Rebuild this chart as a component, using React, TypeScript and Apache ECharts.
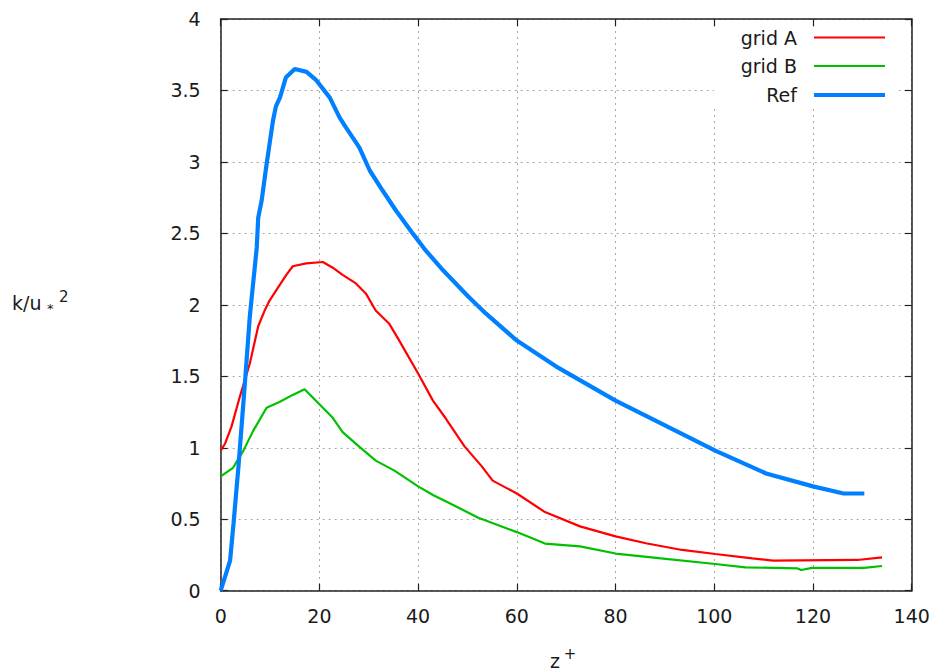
import React, { useEffect, useRef } from "react";
import * as echarts from "echarts";

// Ref (blue)
const refZ = [0, 1.9, 2.6, 3.6, 4.9, 5.9, 7.3, 7.6, 8.3, 9.2, 10.0, 10.6, 11.2, 12.0, 13.2, 15.0, 17.4, 19.4, 22.1, 24.1, 25.4, 28.1, 30.2, 32.8, 35.5, 38.9, 41.3, 45.1, 50.1, 53.7, 60.0, 67.9, 80.0, 89.2, 100.2, 110.5, 120.0, 126.2, 130.4];
const refK = [0, 0.21, 0.47, 0.87, 1.45, 1.92, 2.40, 2.61, 2.73, 2.96, 3.15, 3.29, 3.39, 3.45, 3.59, 3.65, 3.63, 3.57, 3.45, 3.31, 3.24, 3.10, 2.94, 2.80, 2.66, 2.50, 2.39, 2.24, 2.06, 1.94, 1.75, 1.57, 1.33, 1.17, 0.98, 0.82, 0.73, 0.68, 0.68];

// grid A (red)
const gridAZ = [0, 0.9, 2.2, 3.9, 5.9, 7.6, 8.9, 9.9, 11.6, 13.3, 14.6, 17.3, 20.7, 22.7, 24.7, 27.4, 29.4, 31.4, 34.1, 36.0, 40.0, 43.0, 45.5, 49.4, 52.9, 55.1, 60.0, 65.7, 72.8, 80.0, 86.4, 93.5, 100.2, 107.7, 111.9, 129.0, 134.0];
const gridAK = [0.98, 1.03, 1.15, 1.36, 1.59, 1.85, 1.96, 2.03, 2.12, 2.21, 2.27, 2.29, 2.30, 2.26, 2.21, 2.15, 2.08, 1.96, 1.87, 1.76, 1.52, 1.33, 1.21, 1.01, 0.87, 0.77, 0.68, 0.55, 0.45, 0.38, 0.33, 0.285, 0.257, 0.226, 0.21, 0.215, 0.233];

// grid B (green)
const gridBZ = [0, 2.5, 4.6, 6.6, 9.3, 11.9, 14.6, 17.0, 20.7, 22.7, 24.7, 28.0, 31.4, 35.2, 40.0, 43.0, 46.5, 52.2, 60.0, 65.7, 72.8, 80.0, 89.2, 100.2, 106.3, 116.9, 117.6, 119.8, 130.4, 134.0];
const gridBK = [0.80, 0.86, 0.98, 1.12, 1.28, 1.32, 1.37, 1.41, 1.28, 1.21, 1.11, 1.01, 0.91, 0.84, 0.73, 0.67, 0.61, 0.51, 0.41, 0.33, 0.31, 0.26, 0.226, 0.187, 0.163, 0.156, 0.145, 0.16, 0.16, 0.173];

const seriesNames = ["grid A", "grid B", "Ref"];
const seriesColors = ["#ff0000", "#00c000", "#0080ff"];
const seriesWidths = [2.2, 2.2, 4.2];

const FONT = "DejaVu Sans";
const TXT = "#1a1a1a";

function zip(a: number[], b: number[]) {
  return a.map((v, i) => [v, b[i]]);
}

export default function App() {
  const ref = useRef<HTMLDivElement>(null);
  useEffect(() => {
    if (!ref.current) return;
    const chart = echarts.init(ref.current, null, { renderer: "svg" });
    const gridLine = { show: true, lineStyle: { color: "#a8a8a8", width: 1, type: [2, 4] as any } };
    const axisLine = { show: true, onZero: false, lineStyle: { color: "#222", width: 1.5 } };
    const tick = { show: true, inside: true, length: 7, lineStyle: { color: "#222", width: 1.2 } };
    const datasets = [zip(gridAZ, gridAK), zip(gridBZ, gridBK), zip(refZ, refK)];
    const legendY = [37.5, 66, 95];
    const legendEls: any[] = [
      { type: "rect", z: 5, shape: { x: 714, y: 28, width: 183, height: 80 }, style: { fill: "#fff" } },
    ];
    seriesNames.forEach((n, i) => {
      legendEls.push({
        type: "text", z: 6, x: 797, y: legendY[i],
        style: { text: n, fontFamily: FONT, fontSize: 19, fill: TXT, align: "right", verticalAlign: "middle" },
      });
      legendEls.push({
        type: "line", z: 6,
        shape: { x1: 814, y1: legendY[i], x2: 885, y2: legendY[i] },
        style: { stroke: seriesColors[i], lineWidth: seriesWidths[i] },
      });
    });
    const option: any = {
      animation: false,
      backgroundColor: "#fff",
      grid: { left: 220.7, top: 19, width: 691, height: 571.7, containLabel: false },
      xAxis: [
        {
          type: "value", position: "bottom", min: 0, max: 140, interval: 20,
          axisLine, axisTick: tick, splitLine: gridLine,
          axisLabel: { margin: 16, fontFamily: FONT, fontSize: 19, color: TXT },
        },
        {
          type: "value", position: "top", min: 0, max: 140, interval: 20,
          axisLine, axisTick: tick, splitLine: { show: false }, axisLabel: { show: false },
        },
      ],
      yAxis: [
        {
          type: "value", position: "left", min: 0, max: 4, interval: 0.5,
          axisLine, axisTick: tick, splitLine: gridLine,
          axisLabel: { margin: 20, fontFamily: FONT, fontSize: 19, color: TXT },
        },
        {
          type: "value", position: "right", min: 0, max: 4, interval: 0.5,
          axisLine, axisTick: tick, splitLine: { show: false }, axisLabel: { show: false },
        },
      ],
      series: seriesNames.map((n, i) => ({
        name: n, type: "line", xAxisIndex: 0, yAxisIndex: 0,
        data: datasets[i], showSymbol: false, symbol: "none",
        lineStyle: { color: seriesColors[i], width: seriesWidths[i] },
        itemStyle: { color: seriesColors[i] },
        z: i === 2 ? 3 : 2,
      })),
      graphic: [
        ...legendEls,
        { type: "text", x: 12, y: 312, style: { text: "k/u", fontFamily: FONT, fontSize: 19, fill: TXT, verticalAlign: "bottom" } },
        { type: "text", x: 47, y: 315, style: { text: "*", fontFamily: FONT, fontSize: 13, fill: TXT, verticalAlign: "bottom" } },
        { type: "text", x: 59, y: 304, style: { text: "2", fontFamily: FONT, fontSize: 15, fill: TXT, verticalAlign: "bottom" } },
        { type: "text", x: 555, y: 670, style: { text: "z", fontFamily: FONT, fontSize: 19, fill: TXT, align: "center", verticalAlign: "bottom" } },
        { type: "text", x: 570, y: 661, style: { text: "+", fontFamily: FONT, fontSize: 15, fill: TXT, align: "center", verticalAlign: "bottom" } },
      ],
    };
    chart.setOption(option);
    return () => chart.dispose();
  }, []);
  return (
    <div
      ref={ref}
      style={{ position: "absolute", left: 0, top: 0, width: 933, height: 671, background: "#fff" }}
    />
  );
}
